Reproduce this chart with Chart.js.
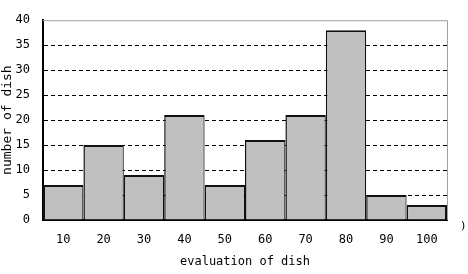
<!DOCTYPE html>
<html>
<head>
<meta charset="utf-8">
<script src="https://cdn.jsdelivr.net/npm/chart.js@4/dist/chart.umd.min.js"></script>
<style>
  html, body { margin: 0; padding: 0; background: #fff; }
  canvas { display: block; }
</style>
</head>
<body>
<canvas id="chart" width="468" height="274"></canvas>
<script>
// histogram of dish evaluations
const scoreLabels = ['10', '20', '30', '40', '50', '60', '70', '80', '90', '100'];
const dishCounts = [7, 15, 9, 21, 7, 16, 21, 38, 5, 3];
const yMin = 0;
const yMax = 40;
const yStep = 5;

const monoFont = "'DejaVu Sans Mono', 'Liberation Mono', monospace";

// gray frame on top/right of plot, stray ")" at right edge
const framePlugin = {
    id: 'frame',
    beforeDatasetsDraw(chart) {
        const { ctx, chartArea: a } = chart;
        ctx.save();
        ctx.strokeStyle = '#a0a0a0';
        ctx.lineWidth = 1;
        ctx.beginPath();
        ctx.moveTo(a.left, a.top + 0.5);
        ctx.lineTo(a.right + 0.5, a.top + 0.5);
        ctx.lineTo(a.right + 0.5, a.bottom);
        ctx.stroke();
        ctx.restore();
    },
    afterDraw(chart) {
        const { ctx } = chart;
        ctx.save();
        ctx.fillStyle = '#000';
        ctx.font = '11px ' + monoFont;
        ctx.textBaseline = 'middle';
        ctx.fillText(')', 460, 226);
        ctx.restore();
    }
};

const lastIdx = dishCounts.length - 1;

new Chart(document.getElementById('chart'), {
    type: 'bar',
    data: {
        labels: scoreLabels,
        datasets: [{
            label: 'number of dish',
            data: dishCounts,
            backgroundColor: '#c0c0c0',
            borderColor: '#111',
            borderWidth: ctx => ({
                top: 2,
                left: ctx.dataIndex === 0 ? 2 : 1.5,
                bottom: 0,
                right: ctx.dataIndex === lastIdx ? 2 : 1.2
            }),
            borderSkipped: false,
            inflateAmount: 0,
            barPercentage: 1,
            categoryPercentage: 1
        }]
    },
    options: {
        responsive: false,
        animation: false,
        layout: { padding: { top: 9, right: 21, left: 0, bottom: 0 } },
        plugins: {
            legend: { display: false },
            tooltip: { enabled: false }
        },
        scales: {
            x: {
                grid: { display: false, drawTicks: false },
                border: { color: '#000', width: 2 },
                ticks: {
                    color: '#000',
                    font: { family: monoFont, size: 12 },
                    padding: 13,
                    maxRotation: 0
                },
                title: {
                    display: true,
                    text: 'evaluation of dish',
                    color: '#000',
                    font: { family: monoFont, size: 12 },
                    padding: { top: 0, bottom: 5 }
                },
                afterFit(scale) { scale.height = 54; }
            },
            y: {
                min: yMin,
                max: yMax,
                ticks: {
                    stepSize: yStep,
                    color: '#000',
                    font: { family: monoFont, size: 12 },
                    padding: 13
                },
                grid: {
                    drawTicks: false,
                    color: ctx => (ctx.tick && ctx.tick.value > yMin && ctx.tick.value < yMax) ? '#000' : 'rgba(0,0,0,0)',
                    lineWidth: 1
                },
                border: { color: '#000', width: 2, dash: [4, 3] },
                title: {
                    display: true,
                    text: 'number of dish',
                    color: '#000',
                    font: { family: monoFont, size: 13 },
                    padding: { top: 0, bottom: 0 }
                },
                afterFit(scale) { scale.width = 43; }
            }
        }
    },
    plugins: [framePlugin]
});
</script>
</body>
</html>
